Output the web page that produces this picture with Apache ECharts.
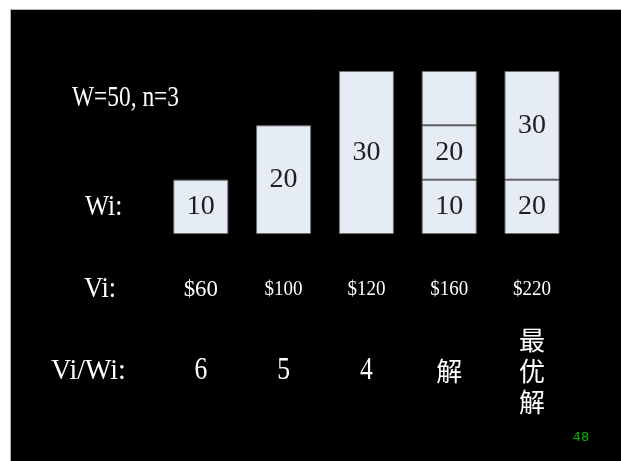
<!DOCTYPE html>
<html>
<head>
<meta charset="utf-8">
<script src="https://cdn.jsdelivr.net/npm/echarts@6/dist/echarts.min.js"></script>
<style>
html,body{margin:0;padding:0;background:#fff}
#main{width:621px;height:461px}
</style>
</head>
<body>
<div id="main"></div>
<script>
// five boxes, heights as drawn on the slide (not to scale with the labels)
const items = ['a', 'b', 'c', 'd', 'e']
const baseHeight = [10, 20, 30, 10, 10]
const midHeight = [null, null, null, 10, 20]
const topHeight = [null, null, null, 10, null]
const baseText = ['10', '20', '30', '10', '20']
const midText = ['', '', '', '20', '30']
const topText = ['', '', '', '', '']
const viText = ['$60', '$100', '$120', '$160', '$220']
const ratioText = ['6', '5', '4', '解', '最\n优\n解']

const serif = '"Liberation Serif", "Times New Roman", serif'
const cjk = '"Noto Sans CJK SC", sans-serif'

var myChart = echarts.init(document.getElementById('main'))

const boxStyle = {
	color: '#e6ecf6',
	borderColor: '#6f6f6f',
	borderWidth: 1
}
const boxLabel = (texts) => ({
	show: true,
	position: 'inside',
	color: '#1e1e1e',
	fontFamily: serif,
	fontSize: 28,
	formatter: (p) => texts[p.dataIndex]
})

myChart.setOption({
	backgroundColor: '#fff',
	animation: false,
	grid: { left: 159.4, width: 414, top: 71, height: 163 },
	xAxis: { type: 'category', data: items, show: false },
	yAxis: { type: 'value', min: 0, max: 30, show: false },
	series: [
		{ type: 'bar', stack: 'w', barWidth: 55, data: baseHeight, itemStyle: boxStyle, label: boxLabel(baseText) },
		{ type: 'bar', stack: 'w', barWidth: 55, data: midHeight, itemStyle: boxStyle, label: boxLabel(midText) },
		{ type: 'bar', stack: 'w', barWidth: 55, data: topHeight, itemStyle: boxStyle, label: boxLabel(topText) }
	]
})

const txt = (x, y, s, font, opts) => {
	opts = opts || {}
	return {
		type: 'text',
		x: x,
		y: y,
		scaleX: opts.sx || 1,
		z: 10,
		style: {
			text: s,
			font: font,
			fill: opts.fill || '#fff',
			align: opts.align || 'center',
			verticalAlign: 'middle',
			textAlign: opts.align || 'center',
			textVerticalAlign: 'middle',
			lineHeight: opts.lh
		}
	}
}

const colX = items.map((c) => myChart.convertToPixel({ xAxisIndex: 0 }, c))
const gfx = [
	{ type: 'rect', z: -1, shape: { x: 10.5, y: 9.5, width: 620, height: 460 }, style: { fill: '#000', stroke: '#b0b0b0', lineWidth: 1 } },
	txt(72, 98, 'W=50, n=3', '30px ' + serif, { align: 'left', sx: 0.78 }),
	txt(85, 207, 'Wi:', '30px ' + serif, { align: 'left', sx: 0.85 }),
	txt(84, 289, 'Vi:', '30px ' + serif, { align: 'left', sx: 0.88 }),
	txt(51, 371, 'Vi/Wi:', '30px ' + serif, { align: 'left', sx: 0.93 }),
	txt(581, 438, '48', '13px "DejaVu Sans", sans-serif', { fill: '#00b000' })
]
viText.forEach((s, i) => {
	gfx.push(txt(colX[i], 290, s, (i === 0 ? '24px ' : '20px ') + serif, { sx: 0.95 }))
})
ratioText.forEach((s, i) => {
	const isCjk = /[^\x00-\x7f]/.test(s)
	gfx.push(txt(colX[i], 371, s, isCjk ? '26px ' + cjk : '32px ' + serif, { sx: isCjk ? 1 : 0.8, lh: 31 }))
})

myChart.setOption({ graphic: gfx })
</script>
</body>
</html>
